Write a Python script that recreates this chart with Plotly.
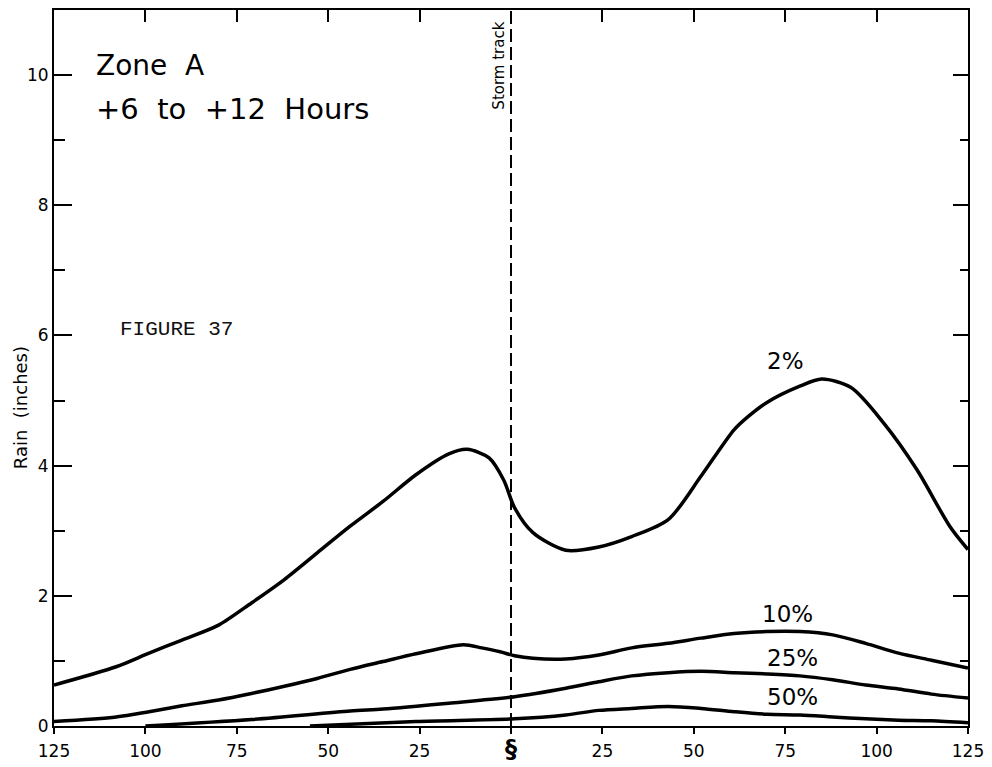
import plotly.graph_objects as go

# distance from storm track (negative = left side), rain in inches
x_2pct = [-125, -108, -99, -90, -80, -71, -62, -53, -44, -35, -26, -17, -12, -6, -2, 1, 6, 15, 24, 33, 43, 52, 61, 65, 70, 79, 85, 93, 102, 111, 120, 125]
y_2pct = [0.63, 0.91, 1.12, 1.32, 1.55, 1.89, 2.25, 2.66, 3.07, 3.45, 3.86, 4.18, 4.25, 4.12, 3.78, 3.35, 2.97, 2.70, 2.75, 2.91, 3.17, 3.84, 4.55, 4.76, 4.97, 5.22, 5.33, 5.20, 4.65, 3.94, 3.07, 2.71]

x_10pct = [-125, -108, -99, -90, -80, -71, -62, -53, -44, -35, -26, -13, -8, -3, 1, 6, 15, 24, 33, 43, 52, 61, 70, 79, 88, 97, 106, 115, 125]
y_10pct = [0.07, 0.14, 0.22, 0.31, 0.40, 0.50, 0.61, 0.73, 0.87, 0.99, 1.11, 1.25, 1.20, 1.14, 1.08, 1.04, 1.03, 1.09, 1.20, 1.27, 1.35, 1.42, 1.45, 1.45, 1.40, 1.27, 1.12, 1.01, 0.89]

x_25pct = [-100, -71, -44, -35, -17, 1, 15, 24, 33, 43, 52, 61, 70, 79, 88, 97, 106, 115, 125]
y_25pct = [0.0, 0.10, 0.23, 0.26, 0.35, 0.45, 0.58, 0.68, 0.77, 0.82, 0.84, 0.82, 0.80, 0.77, 0.71, 0.63, 0.57, 0.49, 0.43]

x_50pct = [-55, -26, 1, 15, 24, 33, 43, 52, 61, 70, 79, 88, 97, 106, 115, 125]
y_50pct = [0.0, 0.07, 0.11, 0.17, 0.24, 0.27, 0.30, 0.27, 0.22, 0.18, 0.17, 0.14, 0.11, 0.09, 0.08, 0.05]

x_ticks = [-125, -100, -75, -50, -25, 0, 25, 50, 75, 100, 125]
x_ticktext = ["125", "100", "75", "50", "25", "<span style='font-size:24px'><b>§</b></span>",
              "25", "50", "75", "100", "125"]
y_ticks = [0, 2, 4, 6, 8, 10]

curve_labels = ["2%", "10%", "25%", "50%"]
label_x = [75, 75.5, 77, 77]
label_y = [5.6, 1.72, 1.05, 0.45]

FONT = "DejaVu Sans"

fig = go.Figure()
for xs, ys in [(x_2pct, y_2pct), (x_10pct, y_10pct), (x_25pct, y_25pct), (x_50pct, y_50pct)]:
    fig.add_trace(go.Scatter(x=xs, y=ys, mode="lines", line=dict(color="black", width=3.5, shape="spline", smoothing=0.8),
                             showlegend=False, hoverinfo="skip"))

# dummy trace so the top/right axes are drawn
fig.add_trace(go.Scatter(x=[-125, 125], y=[0, 0], xaxis="x2", yaxis="y2", mode="lines",
                         line=dict(width=0), opacity=0, showlegend=False, hoverinfo="skip"))

# storm track
fig.add_shape(type="line", x0=0, x1=0, y0=0, y1=11, xref="x", yref="y",
              line=dict(color="black", width=2, dash="13px,5px"))
fig.add_annotation(x=-3.2, y=10.15, xref="x", yref="y", text="Storm track", textangle=-90, showarrow=False,
                   font=dict(family=FONT, size=15, color="black"))

for t, lx, ly in zip(curve_labels, label_x, label_y):
    fig.add_annotation(x=lx, y=ly, text=t, showarrow=False, font=dict(family=FONT, size=23, color="black"))

fig.add_annotation(x=-114, y=10.14, text="Zone  A", xanchor="left", showarrow=False,
                   font=dict(family=FONT, size=28, color="black"))
fig.add_annotation(x=-114, y=9.48, text="+6  to  +12  Hours", xanchor="left", showarrow=False,
                   font=dict(family=FONT, size=29, color="black"))
fig.add_annotation(x=-107.5, y=6.09, text="FIGURE 37", xanchor="left", showarrow=False,
                   font=dict(family="Liberation Mono", size=21, color="#111"))
fig.add_annotation(x=-0.05, y=0.445, xref="paper", yref="paper", text="Rain  (inches)", textangle=-90,
                   showarrow=False, font=dict(family=FONT, size=18, color="black"))

tickfont = dict(family=FONT, size=17, color="black")
fig.update_layout(
    width=984, height=759,
    margin=dict(l=46, r=24, t=2, b=41),
    plot_bgcolor="white", paper_bgcolor="white",
    font=dict(family=FONT, size=15, color="black"),
    xaxis=dict(range=[-125, 125], tickvals=x_ticks, ticktext=x_ticktext, ticks="outside", ticklen=6,
               tickwidth=2, tickcolor="black", tickfont=tickfont, ticklabelstandoff=3, showgrid=False,
               zeroline=False, showline=True, linecolor="black", linewidth=2),
    yaxis=dict(range=[0, 11], tickvals=y_ticks, ticks="inside", ticklen=18, tickwidth=2, tickcolor="black",
               tickfont=tickfont, showgrid=False, zeroline=False, showline=True, linecolor="black", linewidth=2,
               minor=dict(dtick=1, ticks="inside", ticklen=11, tickwidth=2, tickcolor="black", showgrid=False)),
    xaxis2=dict(range=[-125, 125], overlaying="x", side="top", tickvals=[-100, -75, -50, -25, 25, 50, 75, 100],
                showticklabels=False, ticks="inside", ticklen=12, tickwidth=2, tickcolor="black",
                showgrid=False, zeroline=False, showline=True, linecolor="black", linewidth=2),
    yaxis2=dict(range=[0, 11], overlaying="y", side="right", tickvals=y_ticks, showticklabels=False,
                ticks="inside", ticklen=15, tickwidth=2, tickcolor="black", showgrid=False, zeroline=False,
                showline=True, linecolor="black", linewidth=2,
                minor=dict(dtick=1, ticks="inside", ticklen=8, tickwidth=2, tickcolor="black", showgrid=False)),
)

fig.write_html("out.html")
